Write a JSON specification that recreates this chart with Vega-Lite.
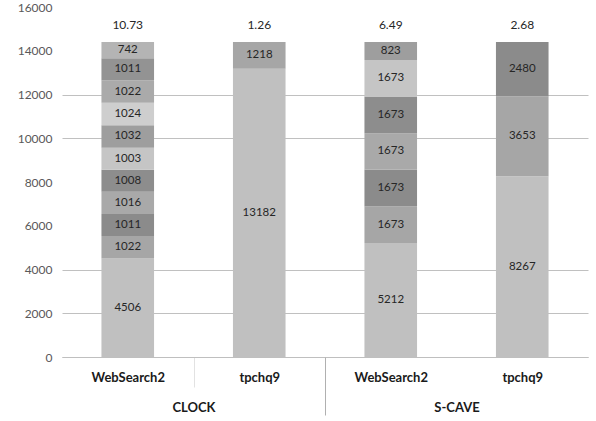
{
  "$schema": "https://vega.github.io/schema/vega-lite/v6.json",
  "width": 526,
  "height": 350,
  "autosize": {"type": "none"},
  "padding": {"left": 62, "top": 7, "right": 8, "bottom": 64},
  "background": "white",
  "config": {
    "view": {"stroke": null},
    "font": "Lato",
    "text": {"font": "Lato"}
  },
  "datasets": {
    "segs": [
      {"key": "CLOCK|WebSearch2", "group": "CLOCK", "test": "WebSearch2", "seg": 1, "v": 4506},
      {"key": "CLOCK|WebSearch2", "group": "CLOCK", "test": "WebSearch2", "seg": 2, "v": 1022},
      {"key": "CLOCK|WebSearch2", "group": "CLOCK", "test": "WebSearch2", "seg": 3, "v": 1011},
      {"key": "CLOCK|WebSearch2", "group": "CLOCK", "test": "WebSearch2", "seg": 4, "v": 1016},
      {"key": "CLOCK|WebSearch2", "group": "CLOCK", "test": "WebSearch2", "seg": 5, "v": 1008},
      {"key": "CLOCK|WebSearch2", "group": "CLOCK", "test": "WebSearch2", "seg": 6, "v": 1003},
      {"key": "CLOCK|WebSearch2", "group": "CLOCK", "test": "WebSearch2", "seg": 7, "v": 1032},
      {"key": "CLOCK|WebSearch2", "group": "CLOCK", "test": "WebSearch2", "seg": 8, "v": 1024},
      {"key": "CLOCK|WebSearch2", "group": "CLOCK", "test": "WebSearch2", "seg": 9, "v": 1022},
      {"key": "CLOCK|WebSearch2", "group": "CLOCK", "test": "WebSearch2", "seg": 10, "v": 1011},
      {"key": "CLOCK|WebSearch2", "group": "CLOCK", "test": "WebSearch2", "seg": 11, "v": 742},
      {"key": "CLOCK|tpchq9", "group": "CLOCK", "test": "tpchq9", "seg": 1, "v": 13182},
      {"key": "CLOCK|tpchq9", "group": "CLOCK", "test": "tpchq9", "seg": 2, "v": 1218},
      {"key": "S-CAVE|WebSearch2", "group": "S-CAVE", "test": "WebSearch2", "seg": 1, "v": 5212},
      {"key": "S-CAVE|WebSearch2", "group": "S-CAVE", "test": "WebSearch2", "seg": 2, "v": 1673},
      {"key": "S-CAVE|WebSearch2", "group": "S-CAVE", "test": "WebSearch2", "seg": 3, "v": 1673},
      {"key": "S-CAVE|WebSearch2", "group": "S-CAVE", "test": "WebSearch2", "seg": 4, "v": 1673},
      {"key": "S-CAVE|WebSearch2", "group": "S-CAVE", "test": "WebSearch2", "seg": 5, "v": 1673},
      {"key": "S-CAVE|WebSearch2", "group": "S-CAVE", "test": "WebSearch2", "seg": 6, "v": 1673},
      {"key": "S-CAVE|WebSearch2", "group": "S-CAVE", "test": "WebSearch2", "seg": 7, "v": 823},
      {"key": "S-CAVE|tpchq9", "group": "S-CAVE", "test": "tpchq9", "seg": 1, "v": 8267},
      {"key": "S-CAVE|tpchq9", "group": "S-CAVE", "test": "tpchq9", "seg": 2, "v": 3653},
      {"key": "S-CAVE|tpchq9", "group": "S-CAVE", "test": "tpchq9", "seg": 3, "v": 2480}
    ],
    "tops": [
      {"key": "CLOCK|WebSearch2", "total": 14400, "label": "10.73"},
      {"key": "CLOCK|tpchq9", "total": 14400, "label": "1.26"},
      {"key": "S-CAVE|WebSearch2", "total": 14400, "label": "6.49"},
      {"key": "S-CAVE|tpchq9", "total": 14400, "label": "2.68"}
    ],
    "groups": [
      {"group": "CLOCK"},
      {"group": "S-CAVE"}
    ]
  },
  "layer": [
    {
      "data": {"name": "segs"},
      "encoding": {
        "x": {
          "field": "key",
          "type": "nominal",
          "sort": ["CLOCK|WebSearch2", "CLOCK|tpchq9", "S-CAVE|WebSearch2", "S-CAVE|tpchq9"],
          "scale": {"domain": ["CLOCK|WebSearch2", "CLOCK|tpchq9", "S-CAVE|WebSearch2", "S-CAVE|tpchq9"], "paddingInner": 0, "paddingOuter": 0},
          "axis": {
            "title": null,
            "labelExpr": "split(datum.value, '|')[1]",
            "labelAngle": 0,
            "labelFont": "Lato",
            "labelFontSize": 13,
            "labelFontWeight": "bold",
            "labelColor": "#1a1a1a",
            "labelBaseline": "top",
            "labelPadding": -16,
            "domainColor": "#bfbfbf",
            "tickBand": "extent",
            "tickSize": 30,
            "tickColor": {"condition": {"test": "datum.value === 'CLOCK|WebSearch2'", "value": "#e2e2e2"}, "value": "transparent"},
            "grid": false
          }
        }
      },
      "layer": [
        {
          "mark": {"type": "bar", "width": {"band": 0.4}},
          "encoding": {
            "y": {
              "field": "v",
              "type": "quantitative",
              "stack": "zero",
              "scale": {"domain": [0, 16000], "nice": false},
              "axis": {
                "title": null,
                "values": [0, 2000, 4000, 6000, 8000, 10000, 12000, 14000, 16000],
                "format": "d",
                "domain": false,
                "ticks": false,
                "labelPadding": 10,
                "labelFont": "Lato",
                "labelFontSize": 12,
                "labelColor": "#595959",
                "grid": true,
                "gridColor": {"condition": {"test": "indexof([0, 2000, 4000, 10000, 12000], datum.value) >= 0", "value": "#c0c0c0"}, "value": "transparent"},
                "gridWidth": 1
              }
            },
            "order": {"field": "seg", "type": "quantitative"},
            "color": {
              "field": "seg",
              "type": "ordinal",
              "scale": {
                "domain": [1, 2, 3, 4, 5, 6, 7, 8, 9, 10, 11],
                "range": ["#c0c0c0", "#a6a6a6", "#8b8b8b", "#a9a9a9", "#8d8d8d", "#c5c5c5", "#9e9e9e", "#cecece", "#aaaaaa", "#939393", "#b4b4b4"]
              },
              "legend": null
            }
          }
        },
        {
          "mark": {"type": "text", "font": "Lato", "fontSize": 11.5, "color": "#262626", "baseline": "middle"},
          "encoding": {
            "y": {"field": "v", "type": "quantitative", "stack": "zero", "bandPosition": 0.5},
            "order": {"field": "seg", "type": "quantitative"},
            "text": {"field": "v", "type": "quantitative", "format": "d"}
          }
        },
        {
          "data": {"name": "tops"},
          "mark": {"type": "text", "font": "Lato", "fontSize": 12, "color": "#262626", "baseline": "middle", "dy": -17},
          "encoding": {
            "y": {"field": "total", "type": "quantitative"},
            "text": {"field": "label", "type": "nominal"}
          }
        }
      ]
    },
    {
      "data": {"name": "groups"},
      "mark": {"type": "rule", "opacity": 0},
      "encoding": {
        "x": {
          "field": "group",
          "type": "nominal",
          "scale": {"domain": ["CLOCK", "S-CAVE"], "paddingInner": 0, "paddingOuter": 0},
          "axis": {
            "orient": "bottom",
            "offset": 0,
            "title": null,
            "domain": false,
            "labelAngle": 0,
            "labelFont": "Lato",
            "labelFontSize": 13,
            "labelFontWeight": "bold",
            "labelColor": "#1a1a1a",
            "labelBaseline": "top",
            "labelPadding": -14,
            "tickBand": "extent",
            "tickSize": 58,
            "tickColor": {"condition": {"test": "datum.value === 'CLOCK'", "value": "#b0b0b0"}, "value": "transparent"},
            "grid": false
          }
        }
      }
    }
  ],
  "resolve": {"scale": {"x": "independent"}, "axis": {"x": "independent"}}
}
